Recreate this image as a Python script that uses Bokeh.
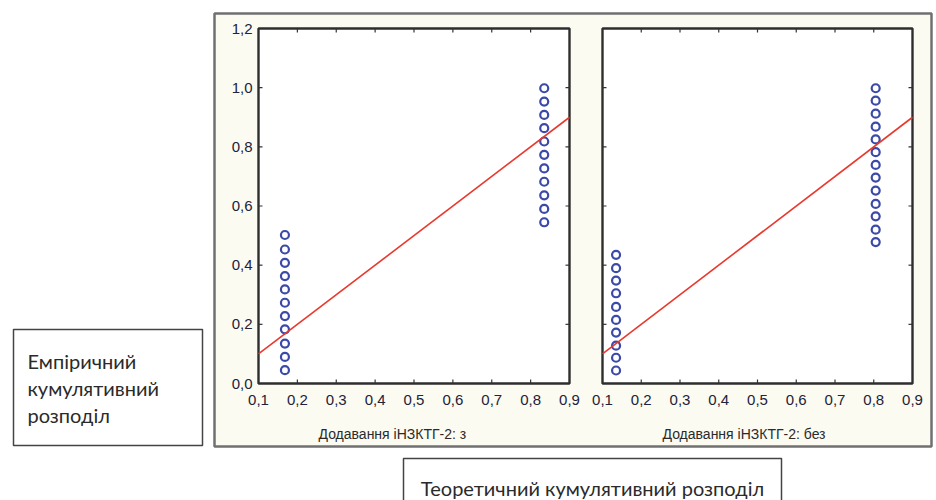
import math
from bokeh.plotting import figure
from bokeh.models import Range1d
from bokeh.embed import file_html
from bokeh.resources import INLINE
from bokeh.core.properties import value

# ---------------- data ----------------
x_ticks = [0.1, 0.2, 0.3, 0.4, 0.5, 0.6, 0.7, 0.8, 0.9]
x_tick_labels = ["0,1", "0,2", "0,3", "0,4", "0,5", "0,6", "0,7", "0,8", "0,9"]
y_ticks = [0.0, 0.2, 0.4, 0.6, 0.8, 1.0, 1.2]
y_tick_labels = ["0,0", "0,2", "0,4", "0,6", "0,8", "1,0", "1,2"]

panel_titles = ["Додавання іНЗКТГ-2: з", "Додавання іНЗКТГ-2: без"]
y_axis_title = ["Емпіричний", "кумулятивний", "розподіл"]
x_axis_title = "Теоретичний кумулятивний розподіл"

# panel 1 (з)
p1_low_x = 0.168
p1_low_y = [0.045, 0.090, 0.135, 0.183, 0.228, 0.273, 0.318, 0.363, 0.408, 0.453, 0.502]
p1_high_x = 0.835
p1_high_y = [0.545, 0.590, 0.636, 0.682, 0.727, 0.773, 0.818, 0.863, 0.908, 0.953, 0.998]

# panel 2 (без)
p2_low_x = 0.135
p2_low_y = [0.044, 0.087, 0.128, 0.172, 0.215, 0.259, 0.305, 0.348, 0.390, 0.435]
p2_high_x = 0.805
p2_high_y = [0.478, 0.520, 0.565, 0.607, 0.652, 0.696, 0.739, 0.782, 0.825, 0.868, 0.912, 0.956, 0.998]

# reference line (theoretical = empirical)
fit_x = [0.1, 0.9]
fit_y = [0.1, 0.9]

# ---------------- layout (pixels) ----------------
W, H = 936, 500
XMIN, XMAX, YMIN, YMAX = 0.1, 0.9, 0.0, 1.2
PANELS = [dict(left=258, right=569, top=28, bottom=383),
          dict(left=602, right=912, top=28, bottom=383)]

TICK_FONT = value("Liberation Sans")
BOX_FONT = value("Lato")


def x_range_for(pn):
    k = (pn["right"] - pn["left"]) / (XMAX - XMIN)
    return Range1d(XMIN - pn["left"] / k, XMAX + (W - pn["right"]) / k)


def y_range_for(pn):
    k = (pn["bottom"] - pn["top"]) / (YMAX - YMIN)
    return Range1d(YMIN - (H - pn["bottom"]) / k, YMAX + pn["top"] / k)


p = figure(width=W, height=H, x_range=Range1d(0, W), y_range=Range1d(H, 0),
           x_axis_type=None, y_axis_type=None, min_border=0,
           toolbar_location=None, output_backend="svg")
p.grid.visible = False
p.outline_line_color = None
p.background_fill_color = "white"
p.border_fill_color = "white"

p.extra_x_ranges = {"x1": x_range_for(PANELS[0]), "x2": x_range_for(PANELS[1])}
p.extra_y_ranges = {"y": y_range_for(PANELS[0])}

# outer cream frame
p.quad(left=[214], right=[931], top=[13], bottom=[446],
       fill_color="#fcfbf1", line_color="#707070", line_width=2.5)

panels_data = [
    ("x1", p1_low_x, p1_low_y, p1_high_x, p1_high_y, panel_titles[0], True),
    ("x2", p2_low_x, p2_low_y, p2_high_x, p2_high_y, panel_titles[1], False),
]

inner_x = [t for t in x_ticks if XMIN < t < XMAX]
inner_y = [t for t in y_ticks if YMIN < t < YMAX]

for xr, lx, ly, hx, hy, title, show_y in panels_data:
    kw = dict(x_range_name=xr, y_range_name="y")
    p.quad(left=[XMIN], right=[XMAX], bottom=[YMIN], top=[YMAX],
           fill_color="white", line_color="#2e2e2e", line_width=2.4, **kw)
    # inward ticks
    tick_kw = dict(length=4, length_units="screen", line_color="#333333", line_width=1.2, **kw)
    p.ray(x=inner_x, y=[YMIN] * len(inner_x), angle=math.pi / 2, **tick_kw)
    p.ray(x=inner_x, y=[YMAX] * len(inner_x), angle=-math.pi / 2, **tick_kw)
    p.ray(x=[XMIN] * len(inner_y), y=inner_y, angle=0, **tick_kw)
    p.ray(x=[XMAX] * len(inner_y), y=inner_y, angle=math.pi, **tick_kw)
    # x tick labels
    p.text(x=x_ticks, y=[YMIN] * len(x_ticks), text=x_tick_labels, y_offset=16,
           text_align="center", text_baseline="middle", text_font=TICK_FONT,
           text_font_size="15px", text_color="#22223a", **kw)
    if show_y:
        p.text(x=[XMIN] * len(y_ticks), y=y_ticks, text=y_tick_labels, x_offset=-6,
               text_align="right", text_baseline="middle", text_font=TICK_FONT,
               text_font_size="15px", text_color="#22223a", **kw)
    # panel title
    p.text(x=[XMIN], y=[YMIN], text=[title], x_offset=60, y_offset=50,
           text_align="left", text_baseline="middle", text_font=TICK_FONT,
           text_font_size="14px", text_color="#2a2a2a", **kw)
    # points
    p.scatter(x=[lx] * len(ly), y=ly, marker="circle", size=8, fill_color=None,
              line_color="#3b4aa8", line_width=2.2, **kw)
    p.scatter(x=[hx] * len(hy), y=hy, marker="circle", size=8, fill_color=None,
              line_color="#3b4aa8", line_width=2.2, **kw)
    # red reference line
    p.line(x=fit_x, y=fit_y, line_color="#e8392e", line_width=1.6, **kw)

# y-axis title box
p.quad(left=[13], right=[202], top=[329], bottom=[445],
       fill_color="white", line_color="#444444", line_width=1.5)
p.text(x=[27, 27, 27], y=[360, 387, 414], text=y_axis_title,
       text_align="left", text_baseline="alphabetic", text_font=BOX_FONT,
       text_font_size="20px", text_color="#2a2a2a")

# x-axis title box
p.quad(left=[403], right=[781], top=[458], bottom=[510],
       fill_color="white", line_color="#444444", line_width=1.5)
p.text(x=[592], y=[487], text=[x_axis_title],
       text_align="center", text_baseline="alphabetic", text_font=BOX_FONT,
       text_font_size="20px", text_color="#2a2a2a")

open("out.html", "w").write(file_html(p, INLINE))
